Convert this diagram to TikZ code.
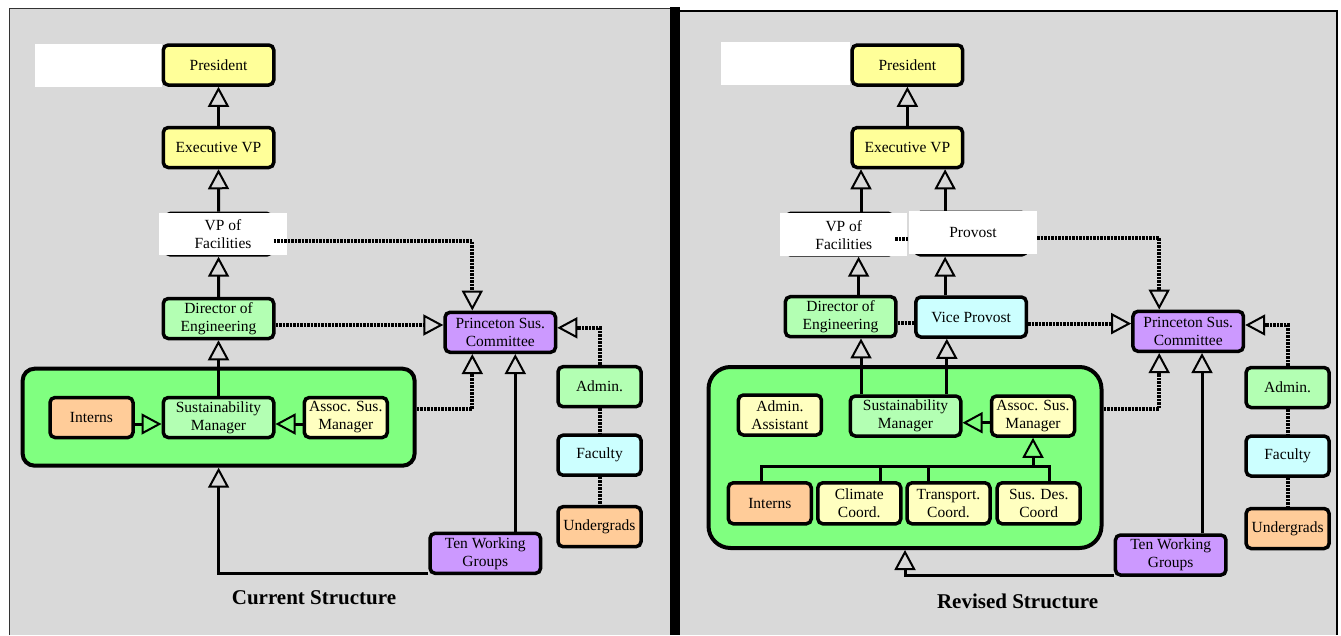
\documentclass[tikz,border=0pt]{standalone}
\usepackage{fontspec}
\setmainfont{Liberation Serif}
\usetikzlibrary{calc,
arrows.meta,
positioning}
\definecolor{panelgray}{HTML}{D9D9D9}
\definecolor{presyellow}{HTML}{FFFF99}
\definecolor{mgrgreen}{HTML}{B3FFB3}
\definecolor{groupgreen}{HTML}{80FF80}
\definecolor{compurple}{HTML}{CC99FF}
\definecolor{internorange}{HTML}{FFCC99}
\definecolor{facultycyan}{HTML}{CCFFFF}
\definecolor{paleyellow}{HTML}{FFFFC0}

\begin{document}
\begin{tikzpicture} [x = 1pt, y = -1pt,
  >={Triangle[open, width = 21pt, length = 20pt, line width = 2pt]},
  main node/.style={rectangle, rounded corners = 5pt, draw, line width = 3.5pt,
      align=center, inner sep = 1pt, font = \fontsize{15.5}{18}\selectfont},
  wide/.style={minimum width = 110.5pt, minimum height = 40pt},
  narrow/.style={minimum width = 83pt, minimum height = 40pt},
  cover node/.style={rectangle, fill = white, align = center, inner sep = 0pt,
      font = \fontsize{15.5}{18}\selectfont},
  group node/.style={rectangle, draw, line width = 4pt, fill = groupgreen},
  link/.style={line width = 3pt},
  dotlink/.style={line width = 4pt, dash pattern = on 2.5pt off 1pt},
  title/.style={font = \fontsize{21}{24}\selectfont\bfseries}]

  \useasboundingbox (0,0) rectangle (1341,635);

  % panels
  \fill [panelgray] (9,8) rectangle (670,635);
  \draw [line width = 1.5pt, black!80] (9.5,635) |- (670,8.5);
  \fill [panelgray] (675,10) rectangle (1337,635);
  \draw [line width = 2pt] (675,11) -| (1337,635);
  \fill (669.5,7) rectangle (680,635);

  \fill [white] (35,44) rectangle (161.5,87);
  \fill [white] (720.5,41.5) rectangle (850,85);

  %%% current structure
  \node [main node, wide, fill = presyellow] (pres) at (218.5,65) {President};
  \node [main node, wide, fill = presyellow,
    below = 39pt of pres
  ] (evp) {Executive VP};

  \node [main node, fill = white,
    minimum width = 106.5pt, minimum height = 41.5pt
  ] (vpfbox) at (218.6,234.2) {};
  \node [cover node, minimum width = 128pt, minimum height = 41.5pt] (vpf) at (223,234.2) {VP of\\Facilities};

  \node [main node, wide, fill = mgrgreen] (dir) at (218.5,318.5) {Director of\\Engineering};
  \node [main node, wide, fill = compurple] (psc) at (500.3,332.3) {Princeton Sus.\\Committee};

  \node [group node, rounded corners = 12pt,
    minimum width = 392pt, minimum height = 97pt
  ] (grpcur) at (218.6,417.2) {};
  \node [main node, narrow, fill = internorange] (int) at (91.5,417.5) {Interns};
  \node [main node, wide, fill = mgrgreen] (sm) at (218.5,417.5) {Sustainability\\Manager};
  \node [main node, narrow, fill = paleyellow] (asm) at (345.8,417.5) {Assoc. Sus.\\Manager};

  \node [main node, wide, fill = compurple] (twg) at (485.3,553.3) {Ten Working\\Groups};

  \node [main node, narrow, fill = mgrgreen] (adm) at (599.5,386.7) {Admin.};
  \node [main node, narrow, fill = facultycyan,
    below = 25pt of adm
  ] (fac) {Faculty};
  \node [main node, narrow, fill = internorange,
    below = 28pt of fac
  ] (ug) {Undergrads};

  \node [title] (curtitle) at (314,598) {Current Structure};

  \draw [link, ->] (evp) -- (pres);
  \draw [link, ->] (vpfbox) -- (evp);
  \draw [link, ->] (dir) -- (vpfbox);
  \draw [link, ->] (sm) -- (dir);
  \draw [link, ->] ([yshift = -6.5pt]int.east) -- ([yshift = -6.5pt]sm.west);
  \draw [link, ->] ([yshift = -6.5pt]asm.west) -- ([yshift = -6.5pt]sm.east);
  \draw [link, ->] ([xshift = 30pt]twg.north) -- ([xshift = 30pt]twg.north |- psc.south);
  \draw [link, ->] ([yshift = -20pt]twg.west) -| (grpcur.south);

  \draw [dotlink, ->] ([yshift = -6.5pt]vpfbox.east) -| ([xshift = -28pt]psc.north);
  \draw [dotlink, ->] ([yshift = -6.5pt]dir.east) -- ([yshift = -6.5pt]dir.east -| psc.west);
  \draw [dotlink, ->] ([yshift = 8pt]grpcur.east) -| ([xshift = -28pt]psc.south);
  \draw [dotlink, ->] (adm.north) |- ([yshift = 4.5pt]psc.east);
  \draw [dotlink] (adm) -- (fac);
  \draw [dotlink] (fac) -- (ug);

  %%% revised structure
  \node [main node, wide, fill = presyellow] (pres2) at (907.4,65) {President};
  \node [main node, wide, fill = presyellow,
    below = 39pt of pres2
  ] (evp2) {Executive VP};

  \node [main node, fill = white,
    minimum width = 108pt, minimum height = 41.5pt
  ] (vpf2box) at (839.5,234.2) {};
  \node [main node, fill = white,
    minimum width = 111pt, minimum height = 42.5pt
  ] (provbox) at (971.1,233.7) {};
  \node [cover node, minimum width = 127pt, minimum height = 42.7pt] (vpf2) at (843.8,234.7) {VP of\\Facilities};
  \node [cover node, minimum width = 128pt, minimum height = 43pt] (prov) at (973,232.5) {Provost};

  \node [main node, wide, fill = mgrgreen] (dir2) at (840.6,316.7) {Director of\\Engineering};
  \node [main node, wide, fill = facultycyan] (vprov) at (971.1,317) {Vice Provost};
  \node [main node, wide, fill = compurple] (psc2) at (1188.2,331.3) {Princeton Sus.\\Committee};

  \node [group node, rounded corners = 22pt,
    minimum width = 393pt, minimum height = 181pt
  ] (grprev) at (905,457.5) {};
  \node [main node, narrow, fill = paleyellow] (aa) at (779.9,415) {Admin.\\Assistant};
  \node [main node, wide, fill = mgrgreen] (sm2) at (905.5,416) {Sustainability\\Manager};
  \node [main node, narrow, fill = paleyellow] (asm2) at (1033,416) {Assoc. Sus.\\Manager};

  \node [main node, narrow, minimum height = 41pt, fill = internorange] (int2) at (769.8,503.3) {Interns};
  \node [main node, narrow, minimum height = 41pt, fill = paleyellow] (clim) at (859.3,503.3) {Climate\\Coord.};
  \node [main node, narrow, minimum height = 41pt, fill = paleyellow] (trans) at (948.5,503.3) {Transport.\\Coord.};
  \node [main node, narrow, minimum height = 41pt, fill = paleyellow] (sdes) at (1038.7,503.3) {Sus. Des.\\Coord};
  \coordinate (bus) at (905,466.7);

  \node [main node, wide, fill = compurple] (twg2) at (1170.7,555) {Ten Working\\Groups};

  \node [main node, narrow, fill = mgrgreen] (adm2) at (1287.6,387.5) {Admin.};
  \node [main node, narrow, fill = facultycyan,
    below = 25pt of adm2
  ] (fac2) {Faculty};
  \node [main node, narrow, fill = internorange,
    below = 29pt of fac2
  ] (ug2) {Undergrads};

  \node [title] (revtitle) at (1017.6,601.7) {Revised Structure};

  \draw [link, ->] (pres2 |- evp2.north) -- (pres2.south);
  \draw [link, ->] ([xshift = 21.5pt]vpf2box.north) -- ([xshift = 21.5pt]vpf2box.north |- evp2.south);
  \draw [link, ->] ([xshift = -26pt]provbox.north) -- ([xshift = -26pt]provbox.north |- evp2.south);
  \draw [link, ->] ([xshift = 18pt]dir2.north) -- ([xshift = 18pt]dir2.north |- vpf2box.south);
  \draw [link, ->] ([xshift = -26pt]vprov.north) -- ([xshift = -26pt]vprov.north |- provbox.south);
  \draw [link, ->] ([xshift = -44.5pt]sm2.north) -- ([xshift = -44.5pt]sm2.north |- dir2.south);
  \draw [link, ->] ([xshift = 41.3pt]sm2.north) -- ([xshift = 41.3pt]sm2.north |- vprov.south);
  \draw [link, ->] ([yshift = -6.7pt]asm2.west) -- ([yshift = -6.7pt]sm2.east);

  \draw [link] ([xshift = -8.4pt]int2.north) |- (bus) -| ([xshift = 11pt]sdes.north);
  \draw [link] ([xshift = 21pt]clim.north) -- ([xshift = 21pt]clim.north |- bus);
  \draw [link] ([xshift = -20pt]trans.north) -- ([xshift = -20pt]trans.north |- bus);
  \draw [link, ->] (asm2.south |- bus) -- (asm2.south);

  \draw [link, ->] ([xshift = 31.3pt]twg2.north) -- ([xshift = 31.3pt]twg2.north |- psc2.south);
  \draw [link, ->] ([yshift = -20pt]twg2.west) -| (grprev.south);

  \draw [dotlink] ([yshift = -5pt]vpf2box.east) -- ([yshift = -5pt]vpf2box.east -| prov.west);
  \draw [dotlink, ->] ([yshift = -5pt]prov.east) -| ([xshift = -29pt]psc2.north);
  \draw [dotlink] ([yshift = -6.6pt]dir2.east) -- ([yshift = -6.6pt]dir2.east -| vprov.west);
  \draw [dotlink, ->] ([yshift = -6.6pt]vprov.east) -- ([yshift = -6.6pt]vprov.east -| psc2.west);
  \draw [dotlink, ->] ([yshift = 49pt]grprev.east) -| ([xshift = -29pt]psc2.south);
  \draw [dotlink, ->] (adm2.north) |- ([yshift = 6.3pt]psc2.east);
  \draw [dotlink] (adm2) -- (fac2);
  \draw [dotlink] (fac2) -- (ug2);

\end{tikzpicture}
\end{document}
